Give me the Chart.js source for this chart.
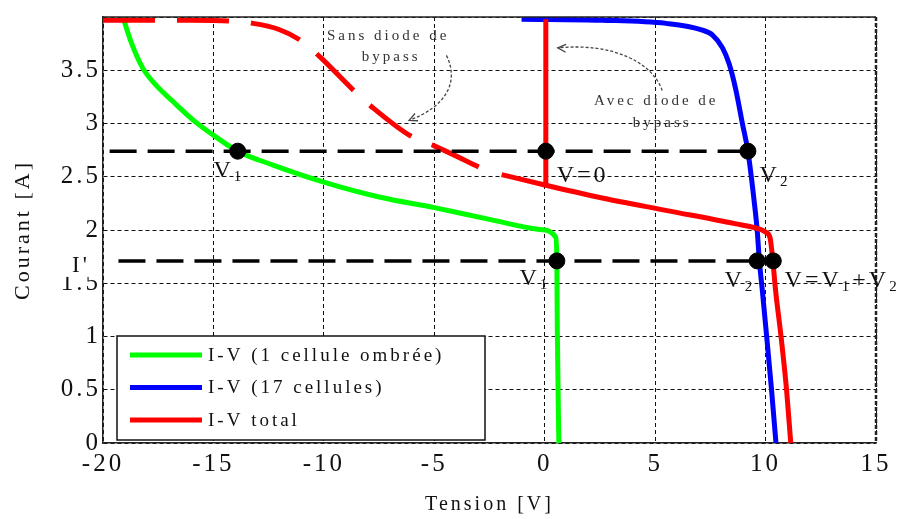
<!DOCTYPE html>
<html lang="fr">
<head>
<meta charset="UTF-8">
<title>Caractéristique I-V - diode de bypass</title>
<script src="https://cdn.jsdelivr.net/npm/chart.js"></script>
<style>
  html, body { margin: 0; padding: 0; background: #fff; }
  #ivChart { display: block; }
</style>
</head>
<body>
<canvas id="ivChart" width="910" height="519"></canvas>
<script>
// axes
const voltTicks = [-20, -15, -10, -5, 0, 5, 10, 15];
const currentTicks = [0, 0.5, 1, 1.5, 2, 2.5, 3, 3.5, 4];

// I-V de la cellule ombrée
const shadedV = [-19.1, -18.7, -18.2, -17.6, -16.8, -15.9, -15.0, -13.9, -12.3, -10.0, -7.5, -5.0, -2.5, 0.0, 0.5, 0.55, 0.57, 0.64];
const shadedI = [4.0, 3.75, 3.52, 3.36, 3.2, 3.03, 2.89, 2.74, 2.61, 2.45, 2.31, 2.21, 2.1, 2.0, 1.93, 1.7, 1.07, 0];

// I-V des 17 cellules
const cellsV = [-1.05, 2.6, 5.5, 7.1, 7.6, 8.05, 8.35, 8.65, 8.95, 9.2, 9.5, 9.62, 9.72, 9.85, 10.05, 10.27, 10.47];
const cellsI = [3.98, 3.97, 3.94, 3.88, 3.83, 3.71, 3.56, 3.32, 3.0, 2.74, 2.24, 2.0, 1.71, 1.44, 1.0, 0.5, 0];

// I-V total
const totalV = [-1.95, 0.05, 2.6, 5.6, 8.6, 9.7, 10.0, 10.2, 10.33, 10.45, 10.7, 10.95, 11.14];
const totalI = [2.52, 2.42, 2.3, 2.18, 2.06, 2.01, 1.98, 1.93, 1.71, 1.44, 1.0, 0.5, 0];

// branche verticale avec diode de bypass
const bypassV = [0.05, 0.05];
const bypassI = [3.98, 2.42];

// branche sans diode de bypass (pointillés)
const noBypassV = [-20, -16, -13.2, -12, -11.05, -10.2, -8.6, -7.85, -6.05, -5, -2.86];
const noBypassI = [3.97, 3.97, 3.94, 3.88, 3.78, 3.63, 3.3, 3.16, 2.88, 2.79, 2.58];

// points de fonctionnement
const dotV = [-13.9, 0.05, 9.2, 0.55, 9.62, 10.35];
const dotI = [2.74, 2.74, 2.74, 1.71, 1.71, 1.71];

// niveaux de courant I et I'
const levelI = [2.74, 1.71];
const levelFromV = [-19.7, -19.3];
const levelToV = [9.2, 9.6];

const toPoints = (vs, is) => vs.map((v, k) => ({ x: v, y: is[k] }));

const serif = '"Liberation Serif", "Times New Roman", serif';

// texte avec indices : "_" place le caractère suivant en indice
function richText(ctx, str, x, y, size) {
    let cx = x;
    for (let k = 0; k < str.length; k++) {
        let ch = str[k];
        let sub = false;
        if (ch === '_') { sub = true; ch = str[++k]; }
        const s = sub ? Math.round(size * 0.62) : size;
        ctx.font = s + 'px ' + serif;
        ctx.fillText(ch, cx, sub ? y + size * 0.24 : y);
        cx += ctx.measureText(ch).width;
    }
}

function arrowHead(ctx, x, y, angle, len) {
    ctx.save();
    ctx.setLineDash([]);
    ctx.beginPath();
    ctx.moveTo(x + len * Math.cos(angle + 0.45), y + len * Math.sin(angle + 0.45));
    ctx.lineTo(x, y);
    ctx.lineTo(x + len * Math.cos(angle - 0.45), y + len * Math.sin(angle - 0.45));
    ctx.stroke();
    ctx.restore();
}

const decor = {
    id: 'decor',
    beforeUpdate(chart) {
        chart.ctx.letterSpacing = '3px';
    },
    beforeDraw(chart) {
        chart.ctx.letterSpacing = '3px';
    },
    afterDraw(chart) {
        const { ctx, chartArea: a, scales: { x, y } } = chart;
        const px = v => x.getPixelForValue(v);
        const py = i => y.getPixelForValue(i);
        ctx.save();

        // cadre haut / droite
        ctx.strokeStyle = '#222';
        ctx.lineWidth = 1.5;
        ctx.beginPath();
        ctx.moveTo(a.left, a.top);
        ctx.lineTo(a.right, a.top);
        ctx.stroke();
        ctx.lineWidth = 2.5;
        ctx.setLineDash([4, 2]);
        ctx.beginPath();
        ctx.moveTo(a.right, a.top);
        ctx.lineTo(a.right, a.bottom);
        ctx.stroke();
        ctx.setLineDash([]);

        // étiquettes des points
        ctx.fillStyle = '#111';
        ctx.textAlign = 'left';
        ctx.textBaseline = 'middle';
        richText(ctx, 'V_1', px(-15.0), py(2.553), 24);
        richText(ctx, 'V=0', px(0.545), py(2.507), 24);
        richText(ctx, 'V_2', px(9.73), py(2.507), 24);
        richText(ctx, 'V_1', px(-1.14), py(1.54), 24);
        richText(ctx, 'V_2', px(8.14), py(1.52), 24);
        richText(ctx, 'V=V_1+V_2', px(10.86), py(1.52), 24);

        // I' devant la graduation 1.5
        ctx.fillStyle = '#fff';
        ctx.fillRect(a.left - 58, py(1.71) - 11, 54, 27);
        ctx.fillStyle = '#111';
        richText(ctx, "I'", a.left - 31, py(1.66), 23);

        // annotations
        ctx.fillStyle = '#333';
        ctx.textAlign = 'center';
        ctx.font = '15px ' + serif;
        ctx.fillText('Sans diode de', px(-7.09), py(3.825));
        ctx.fillText('bypass', px(-6.95), py(3.62));
        ctx.fillText('Avec diode de', px(5.05), py(3.21));
        ctx.fillText('bypass', px(5.32), py(3.0));

        // flèches pointillées
        ctx.strokeStyle = '#444';
        ctx.lineWidth = 1.3;
        ctx.setLineDash([3, 2]);
        ctx.beginPath();
        ctx.moveTo(px(-4.45), py(3.64));
        ctx.bezierCurveTo(px(-3.86), py(3.39), px(-4.45), py(3.16), px(-6.14), py(3.03));
        ctx.stroke();
        arrowHead(ctx, px(-6.14), py(3.03), -0.4, 9);

        ctx.beginPath();
        ctx.moveTo(px(5.32), py(3.31));
        ctx.bezierCurveTo(px(4.86), py(3.58), px(3.05), py(3.76), px(0.59), py(3.71));
        ctx.stroke();
        arrowHead(ctx, px(0.59), py(3.71), 0.05, 9);
        ctx.setLineDash([]);

        // légende
        const lx = a.left + 14, ly = a.top + 319, lw = 368, lh = 104;
        ctx.fillStyle = '#fff';
        ctx.fillRect(lx, ly, lw, lh);
        ctx.strokeStyle = '#111';
        ctx.lineWidth = 1.5;
        ctx.strokeRect(lx, ly, lw, lh);
        ctx.textAlign = 'left';
        ctx.fillStyle = '#111';
        chart.data.datasets.filter(d => d.inLegend).forEach((d, k) => {
            const ry = ly + 19 + k * 32.5;
            ctx.strokeStyle = d.borderColor;
            ctx.lineWidth = 5;
            ctx.beginPath();
            ctx.moveTo(lx + 13, ry);
            ctx.lineTo(lx + 85, ry);
            ctx.stroke();
            ctx.font = '19px ' + serif;
            ctx.fillText(d.label, lx + 91, ry + 1);
        });

        ctx.restore();
    }
};

const lineStyle = { showLine: true, pointRadius: 0, borderWidth: 5, fill: false, cubicInterpolationMode: 'monotone' };

const datasets = [
    { label: 'Points', data: toPoints(dotV, dotI), showLine: false, pointRadius: 8,
      backgroundColor: '#000', borderColor: '#000', order: 0 },
    ...levelI.map((lv, k) => ({
        label: 'Niveau ' + (k + 1),
        data: toPoints([levelFromV[k], levelToV[k]], [lv, lv]),
        showLine: true, pointRadius: 0, borderWidth: 3.5, borderColor: '#000',
        borderDash: [27, 11], order: 1
    })),
    { ...lineStyle, label: 'I-V total', data: toPoints(totalV, totalI), borderColor: '#ff0000', order: 2, inLegend: true },
    { ...lineStyle, label: 'Avec diode', data: toPoints(bypassV, bypassI), borderColor: '#ff0000', cubicInterpolationMode: 'default', tension: 0, order: 2 },
    { ...lineStyle, label: 'Sans diode', data: toPoints(noBypassV, noBypassI), borderColor: '#ff0000', borderDash: [52, 22], order: 2 },
    { ...lineStyle, label: 'I-V (17 cellules)', data: toPoints(cellsV, cellsI), borderColor: '#0000ff', order: 3, inLegend: true },
    { ...lineStyle, label: 'I-V (1 cellule ombrée)', data: toPoints(shadedV, shadedI), borderColor: '#00ff00', order: 4, inLegend: true }
];
// ordre de la légende : verte, bleue, rouge
const legendOrder = ['I-V (1 cellule ombrée)', 'I-V (17 cellules)', 'I-V total'];
datasets.sort((p, q) => {
    const ip = legendOrder.indexOf(p.label), iq = legendOrder.indexOf(q.label);
    return (ip < 0 ? -1 : ip) - (iq < 0 ? -1 : iq);
});

const ctx = document.getElementById('ivChart').getContext('2d');
new Chart(ctx, {
    type: 'scatter',
    data: { datasets: datasets },
    options: {
        responsive: false,
        animation: false,
        layout: { padding: { left: 0, top: 10, right: 34, bottom: 0 } },
        plugins: { legend: { display: false }, tooltip: { enabled: false } },
        scales: {
            x: {
                type: 'linear', min: -20, max: 15,
                afterBuildTicks: s => { s.ticks = voltTicks.map(v => ({ value: v })); },
                afterFit: s => { s.height = 76; },
                ticks: { color: '#111', padding: 6, font: { family: serif, size: 25 } },
                grid: { color: '#111', lineWidth: 1, drawTicks: false },
                border: { display: true, color: '#222', width: 1.5, dash: [4, 3] },
                title: { display: true, text: 'Tension [V]', color: '#111', padding: { top: 0, bottom: 2 },
                         font: { family: serif, size: 20 } }
            },
            y: {
                type: 'linear', min: 0, max: 4,
                afterBuildTicks: s => { s.ticks = currentTicks.map(v => ({ value: v })); },
                afterFit: s => { s.width = 103; },
                ticks: { color: '#111', padding: 2, font: { family: serif, size: 25 },
                         callback: v => (v === 4 ? '' : String(v)) },
                grid: { color: '#111', lineWidth: 1, drawTicks: false },
                border: { display: true, color: '#222', width: 1.5, dash: [4, 3] },
                title: { display: true, text: 'Courant [A]', color: '#111', padding: { top: 10, bottom: 0 },
                         font: { family: serif, size: 22 } }
            }
        }
    },
    plugins: [decor]
});
</script>
</body>
</html>
